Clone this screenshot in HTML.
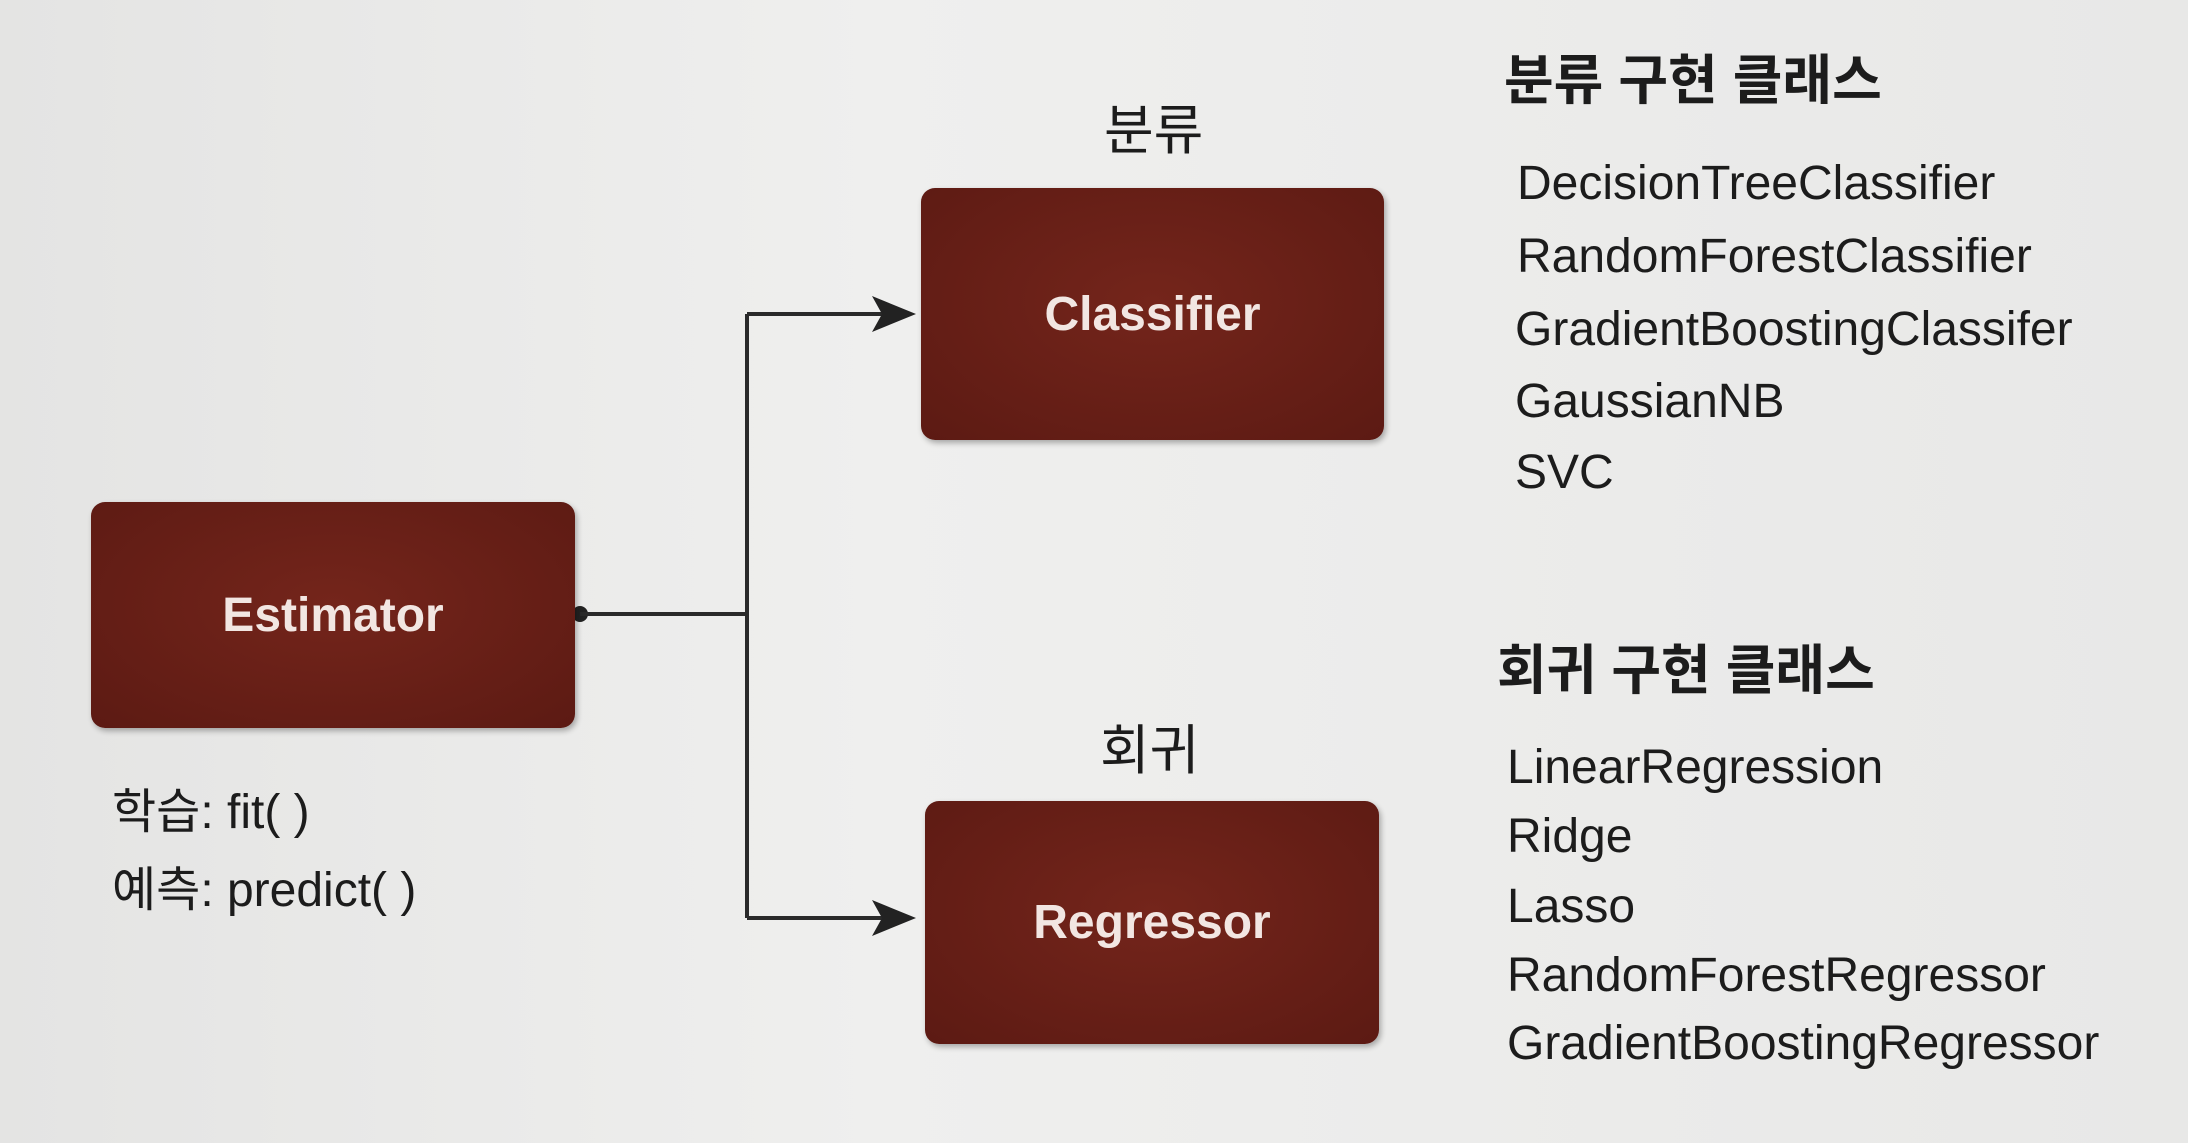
<!DOCTYPE html>
<html><head><meta charset="utf-8"><style>
body{margin:0;width:2188px;height:1143px;overflow:hidden;background:#e9e9e8;font-family:"Liberation Sans","Noto Sans CJK KR",sans-serif;color:#1c1c1c;position:relative}
.box{position:absolute;background:radial-gradient(ellipse at 50% 45%,#74251b,#5c1a13);border-radius:14px;color:#f2e6e2;font-weight:bold;font-size:48px;display:flex;align-items:center;justify-content:center;box-shadow:2px 3px 6px rgba(0,0,0,.3)}
.t{position:absolute;white-space:nowrap}
.h{font-weight:bold;font-size:54px}
.i{font-size:48px;letter-spacing:0px}
</style></head><body>
<div style="position:absolute;left:0;top:0;width:2188px;height:1143px;background:linear-gradient(90deg,#e4e4e3,#efefee 40%,#e8e8e7)"></div>
<svg style="position:absolute;left:0;top:0" width="2188" height="1143">
<circle cx="580" cy="614" r="8" fill="#222"/>
<path d="M580 614H747M747 314V918M747 314H890M747 918H890" stroke="#2a2a2a" stroke-width="4" fill="none"/>
<polygon points="872,296 916,314 872,332 882,314" fill="#222"/>
<polygon points="872,900 916,918 872,936 882,918" fill="#222"/>
</svg>
<div class="box" style="left:921px;top:188px;width:463px;height:252px">Classifier</div>
<div class="box" style="left:91px;top:502px;width:484px;height:226px">Estimator</div>
<div class="box" style="left:925px;top:801px;width:454px;height:243px">Regressor</div>
<div class="t h" style="left:1104px;top:86px;font-weight:normal">분류</div>
<div class="t h" style="left:1100px;top:706px;font-weight:normal">회귀</div>
<div class="t h" style="left:1504px;top:36px">분류 구현 클래스</div>
<div class="t h" style="left:1497px;top:626px">회귀 구현 클래스</div>
<div class="t i" style="left:1517px;top:156px">DecisionTreeClassifier</div>
<div class="t i" style="left:1517px;top:229px">RandomForestClassifier</div>
<div class="t i" style="left:1515px;top:302px">GradientBoostingClassifer</div>
<div class="t i" style="left:1515px;top:374px">GaussianNB</div>
<div class="t i" style="left:1515px;top:445px">SVC</div>
<div class="t i" style="left:1507px;top:740px">LinearRegression</div>
<div class="t i" style="left:1507px;top:809px">Ridge</div>
<div class="t i" style="left:1507px;top:879px">Lasso</div>
<div class="t i" style="left:1507px;top:948px">RandomForestRegressor</div>
<div class="t i" style="left:1507px;top:1016px">GradientBoostingRegressor</div>
<div class="t i" style="left:112px;top:772px">학습: fit( )</div>
<div class="t i" style="left:112px;top:850px">예측: predict( )</div>
</body></html>
